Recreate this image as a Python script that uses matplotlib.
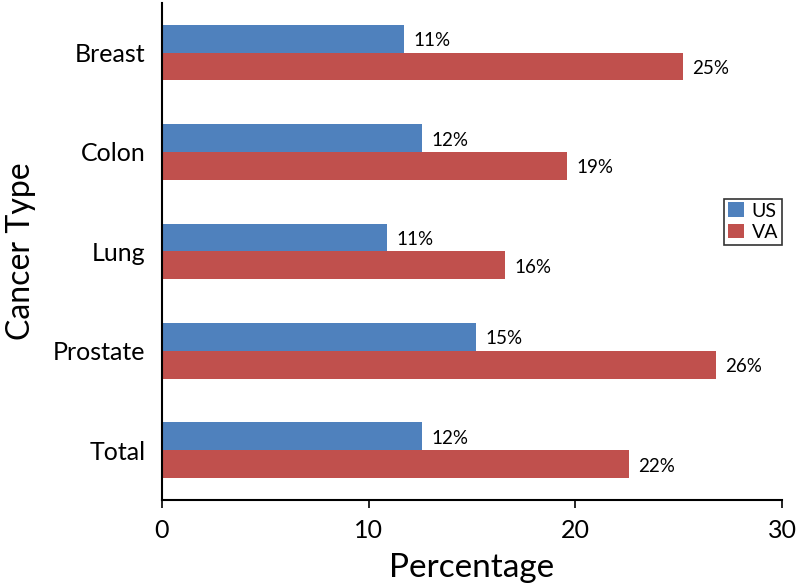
import matplotlib
matplotlib.use('Agg')
import matplotlib.pyplot as plt
import numpy as np

plt.rcParams['font.family'] = ['Lato', 'DejaVu Sans']

categories = ['Breast', 'Colon', 'Lung', 'Prostate', 'Total']
us = [11.7, 12.6, 10.9, 15.2, 12.6]
va = [25.2, 19.6, 16.6, 26.8, 22.6]
us_labels = ['11%', '12%', '11%', '15%', '12%']
va_labels = ['25%', '19%', '16%', '26%', '22%']

fig = plt.figure(figsize=(7.98, 5.88), dpi=100)
ax = fig.add_axes([0.203, 0.15, 0.777, 0.845])

y = np.arange(len(categories))
h = 0.28
b1 = ax.barh(y - h / 2, us, height=h, color='#4F81BD', label='US')
b2 = ax.barh(y + h / 2, va, height=h, color='#C0504D', label='VA')

for bars, labs in ((b1, us_labels), (b2, va_labels)):
    for bar, lab in zip(bars, labs):
        ax.text(bar.get_width() + 0.45, bar.get_y() + bar.get_height() / 2 + 0.02, lab,
                va='center', ha='left', fontsize=13.5)

ax.set_ylim(len(categories) - 0.5, -0.5)
ax.set_xlim(0, 30)
ax.set_xticks([0, 10, 20, 30])
ax.set_yticks(y)
ax.set_yticklabels(categories)
ax.tick_params(axis='y', length=0, pad=12, labelsize=18)
ax.tick_params(axis='x', length=6, width=1.2, pad=8, labelsize=18)

for s in ('top', 'right'):
    ax.spines[s].set_visible(False)
for s in ('left', 'bottom'):
    ax.spines[s].set_linewidth(1.5)

ax.set_xlabel('Percentage', fontsize=24, labelpad=8)
ax.set_ylabel('Cancer Type', fontsize=23, labelpad=12)

leg = ax.legend(loc='center right', bbox_to_anchor=(1.0, 0.56), frameon=True,
                fancybox=False, edgecolor='black', fontsize=14,
                handlelength=0.8, handleheight=0.8, handletextpad=0.4,
                borderpad=0.2, labelspacing=0.2, borderaxespad=0)
leg.get_frame().set_linewidth(1.2)

fig.savefig('out.png', dpi=100)
